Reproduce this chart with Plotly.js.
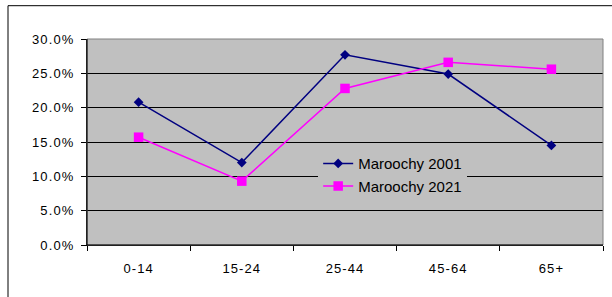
<!DOCTYPE html>
<html>
<head>
<meta charset="utf-8">
<script src="https://cdn.plot.ly/plotly-3.0.1.min.js"></script>
<style>
  html, body { margin: 0; padding: 0; background: #ffffff; }
  #chart { width: 612px; height: 297px; }
  #chart .xtick text, #chart .ytick text { letter-spacing: 1.1px; }
</style>
</head>
<body>
<div id="chart"></div>
<script>
const categories = ["0-14", "15-24", "25-44", "45-64", "65+"];
const maroochy2001 = [20.8, 12.0, 27.7, 24.9, 14.5];
const maroochy2021 = [15.7, 9.3, 22.8, 26.6, 25.6];
const seriesNames = ["Maroochy 2001", "Maroochy 2021"];

const font = { family: "Liberation Sans, Arial, sans-serif", size: 13, color: "#000000" };
const legendFont = { family: "Liberation Sans, Arial, sans-serif", size: 15, color: "#000000" };

const traces = [
  {
    type: "scatter", mode: "lines+markers", name: seriesNames[0],
    x: categories, y: maroochy2001, legendgroup: "a",
    line: { color: "#000080", width: 1.5 },
    marker: { symbol: "diamond", size: 7.5, color: "#000080" }
  },
  {
    type: "scatter", mode: "lines+markers", name: seriesNames[1],
    x: categories, y: maroochy2021, legendgroup: "b",
    line: { color: "#FF00FF", width: 1.5 },
    marker: { symbol: "square", size: 9.5, color: "#FF00FF" }
  }
];

const layout = {
  width: 612, height: 297,
  margin: { l: 87, r: 9, t: 39, b: 52 },
  paper_bgcolor: "#ffffff",
  plot_bgcolor: "#C0C0C0",
  font: font,
  showlegend: true,
  legend: {
    x: 0.448, y: 0.475, xanchor: "left", yanchor: "top",
    bgcolor: "#C0C0C0", borderwidth: 0,
    font: legendFont, tracegroupgap: 0
  },
  xaxis: {
    type: "category",
    range: [-0.5, 4.5],
    showgrid: false, zeroline: false,
    showline: true, linecolor: "#000000", linewidth: 1,
    ticks: "outside", tickson: "boundaries", ticklen: 5, tickcolor: "#000000",
    ticklabelstandoff: 11,
    tickfont: font
  },
  yaxis: {
    range: [0, 30], dtick: 5, tick0: 0,
    tickformat: ".1f", ticksuffix: "%",
    showgrid: true, gridcolor: "#000000", gridwidth: 1,
    zeroline: false,
    showline: true, linecolor: "#000000", linewidth: 1,
    ticks: "outside", ticklen: 5, tickcolor: "#000000",
    ticklabelstandoff: 4,
    tickfont: font
  },
  shapes: [
    {
      type: "rect", xref: "paper", yref: "paper", layer: "above",
      x0: 0, x1: 1, y0: 0, y1: 1,
      line: { color: "#808080", width: 1 }, fillcolor: "rgba(0,0,0,0)"
    },
    {
      type: "line", xref: "paper", yref: "paper", layer: "above",
      x0: 0, x1: 0, y0: 0, y1: 1,
      line: { color: "#000000", width: 1 }
    },
    {
      type: "line", xref: "paper", yref: "paper", layer: "above",
      x0: 0, x1: 1, y0: 0, y1: 0,
      line: { color: "#000000", width: 1 }
    },
    {
      type: "rect", xref: "paper", yref: "paper", layer: "above",
      x0: -0.1531, x1: 2, y0: -1, y1: 1.1617,
      line: { color: "#000000", width: 1 }, fillcolor: "rgba(0,0,0,0)"
    }
  ]
};

Plotly.newPlot("chart", traces, layout, { displayModeBar: false, staticPlot: true });
</script>
</body>
</html>
